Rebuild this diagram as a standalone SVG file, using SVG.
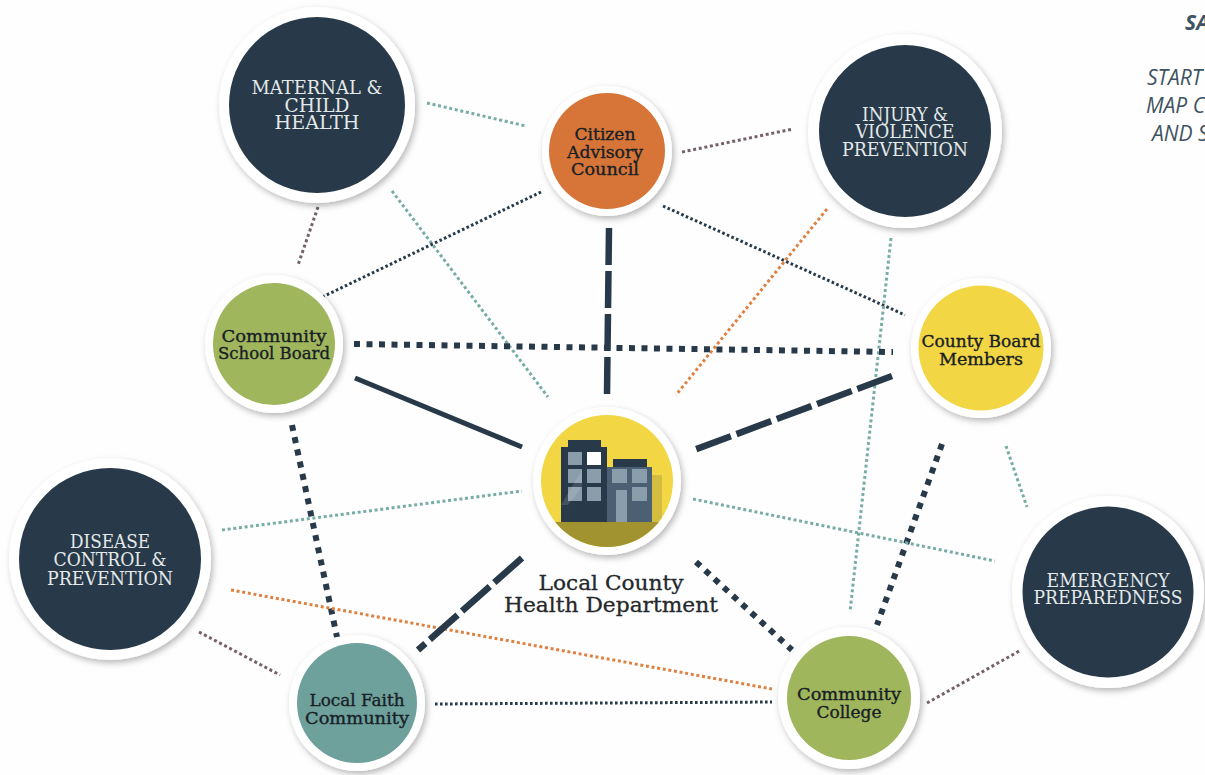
<svg xmlns="http://www.w3.org/2000/svg" width="1205" height="775" viewBox="0 0 1205 775">
<style>
.ring{fill:#fff;filter:url(#sh)}
.navy{fill:#283a49}.orange{fill:#d67537}.green{fill:#a0b65c}.yellow{fill:#f2d643}.teal{fill:#6ea09c}
text{font-family:"DejaVu Serif","Liberation Serif",serif;text-anchor:middle}
.lt{fill:#e4e9ea;font-size:18.5px}
.dk{fill:#172026;font-size:17px;stroke:#172026;stroke-width:.35}
.side{font-family:"Open Sans","Liberation Sans",sans-serif;font-style:italic;font-size:21px;fill:#3f5362;text-anchor:start}
#connectors line{fill:none}
.t{stroke:#78aca6;stroke-width:3;stroke-dasharray:3 2.7}
.o{stroke:#dd8243;stroke-width:3;stroke-dasharray:3 2.7}
.m{stroke:#75606c;stroke-width:3;stroke-dasharray:3 2.7}
.d{stroke:#283a49;stroke-width:3;stroke-dasharray:2.6 2.4}
.dd{stroke:#283a49;stroke-width:6;stroke-dasharray:6 6.5}
.da{stroke:#283a49;stroke-width:6.5;stroke-dasharray:37 6}
.s{stroke:#283a49;stroke-width:5}
</style>
<defs>
<filter id="sh" x="-20%" y="-20%" width="140%" height="140%"><feDropShadow dx="2" dy="3" stdDeviation="3" flood-color="#000" flood-opacity=".28"/></filter>
<clipPath id="hc"><circle cx="607" cy="481" r="66"/></clipPath>
</defs>
<rect width="1205" height="775" fill="#fefefe"/>
<g id="connectors">
<line class="t" x1="427" y1="103" x2="526" y2="126"/>
<line class="t" x1="392" y1="191" x2="548" y2="397"/>
<line class="m" x1="318" y1="207" x2="298" y2="265"/>
<line class="d" x1="541" y1="192" x2="316" y2="300"/>
<line class="m" x1="682" y1="152" x2="793" y2="129"/>
<line class="d" x1="663" y1="206" x2="905" y2="315"/>
<line class="da" x1="609" y1="228" x2="607" y2="395"/>
<line class="o" x1="827" y1="209" x2="676" y2="395"/>
<line class="t" x1="891" y1="238" x2="850" y2="612"/>
<line class="dd" x1="354" y1="344" x2="893" y2="352"/>
<line class="s" x1="355" y1="378" x2="522" y2="447"/>
<line class="da" x1="892" y1="376" x2="694" y2="450"/>
<line class="dd" x1="942" y1="444" x2="877" y2="625"/>
<line class="t" x1="1006" y1="446" x2="1027" y2="507"/>
<line class="dd" x1="292" y1="425" x2="337" y2="637"/>
<line class="t" x1="222" y1="530" x2="522" y2="491"/>
<line class="t" x1="693" y1="499" x2="995" y2="561"/>
<line class="o" x1="231" y1="590" x2="772" y2="689"/>
<line class="m" x1="199" y1="632" x2="280" y2="675"/>
<line class="da" x1="522" y1="558" x2="418" y2="650"/>
<line class="dd" x1="696" y1="562" x2="792" y2="650"/>
<line class="d" x1="435" y1="704" x2="772" y2="702"/>
<line class="m" x1="927" y1="703" x2="1021" y2="650"/>
</g>
<g id="maternal">
<circle class="ring" cx="317" cy="105" r="98"/><circle class="navy" cx="317" cy="105" r="88"/>
<text class="lt" x="317" y="94" textLength="131" lengthAdjust="spacingAndGlyphs">MATERNAL &amp;</text>
<text class="lt" x="317" y="112" textLength="65" lengthAdjust="spacingAndGlyphs">CHILD</text>
<text class="lt" x="317" y="129" textLength="85" lengthAdjust="spacingAndGlyphs">HEALTH</text>
</g>
<g id="citizen">
<circle class="ring" cx="607" cy="151" r="65"/><circle class="orange" cx="607" cy="151" r="58"/>
<text class="dk" x="605" y="140" textLength="61" lengthAdjust="spacingAndGlyphs">Citizen</text>
<text class="dk" x="605" y="158" textLength="76" lengthAdjust="spacingAndGlyphs">Advisory</text>
<text class="dk" x="605" y="175" textLength="68" lengthAdjust="spacingAndGlyphs">Council</text>
</g>
<g id="injury">
<circle class="ring" cx="905" cy="131" r="97"/><circle class="navy" cx="905" cy="131" r="86"/>
<text class="lt" x="905" y="121" textLength="86" lengthAdjust="spacingAndGlyphs">INJURY &amp;</text>
<text class="lt" x="905" y="138" textLength="99" lengthAdjust="spacingAndGlyphs">VIOLENCE</text>
<text class="lt" x="905" y="156" textLength="126" lengthAdjust="spacingAndGlyphs">PREVENTION</text>
</g>
<g id="school">
<circle class="ring" cx="274" cy="344" r="69"/><circle class="green" cx="274" cy="344" r="61"/>
<text class="dk" x="274" y="342" textLength="105" lengthAdjust="spacingAndGlyphs">Community</text>
<text class="dk" x="274" y="359" textLength="112" lengthAdjust="spacingAndGlyphs">School Board</text>
</g>
<g id="county">
<circle class="ring" cx="981" cy="348" r="70"/><circle class="yellow" cx="981" cy="348" r="62.5"/>
<text class="dk" x="981" y="347" textLength="119" lengthAdjust="spacingAndGlyphs">County Board</text>
<text class="dk" x="981" y="365" textLength="84" lengthAdjust="spacingAndGlyphs">Members</text>
</g>
<g id="health">
<circle class="ring" cx="607" cy="481" r="74"/><circle class="yellow" cx="607" cy="481" r="66"/>
<g clip-path="url(#hc)">
<rect x="652" y="475" width="10" height="47" fill="#d3bc3f"/>
<rect x="530" y="522" width="160" height="30" fill="#a09330"/>
</g>
<rect x="568" y="440" width="33" height="8" fill="#283a49"/>
<rect x="561" y="447" width="46" height="75" fill="#283a49"/>
<rect x="613" y="459" width="34" height="8" fill="#283a49"/>
<rect x="607" y="467" width="45" height="55" fill="#4b6072"/>
<g fill="#8a9dab">
<rect x="568" y="452" width="14" height="13"/><rect x="568" y="469" width="14" height="14"/><rect x="587" y="469" width="14" height="14"/>
<rect x="568" y="487" width="14" height="14"/><rect x="587" y="487" width="14" height="14"/>
<rect x="612" y="469" width="15" height="14"/><rect x="632" y="469" width="15" height="14"/><rect x="632" y="487" width="15" height="14"/>
<rect x="616" y="490" width="11" height="32"/>
</g>
<rect x="587" y="452" width="14" height="13" fill="#fff"/>
<polygon points="561,505 582,470 582,487 568,505" fill="#fff" opacity=".12"/>
<text x="611" y="590" fill="#24282c" stroke="#24282c" stroke-width=".3" font-size="21" textLength="145" lengthAdjust="spacingAndGlyphs">Local County</text>
<text x="611" y="612" fill="#24282c" stroke="#24282c" stroke-width=".3" font-size="21" textLength="214" lengthAdjust="spacingAndGlyphs">Health Department</text>
</g>
<g id="disease">
<circle class="ring" cx="110" cy="559" r="101"/><circle class="navy" cx="110" cy="559" r="91"/>
<text class="lt" x="110" y="548" textLength="80" lengthAdjust="spacingAndGlyphs">DISEASE</text>
<text class="lt" x="110" y="566" textLength="113" lengthAdjust="spacingAndGlyphs">CONTROL &amp;</text>
<text class="lt" x="110" y="585" textLength="126" lengthAdjust="spacingAndGlyphs">PREVENTION</text>
</g>
<g id="emergency">
<circle class="ring" cx="1108" cy="592" r="96"/><circle class="navy" cx="1108" cy="592" r="85.5"/>
<text class="lt" x="1108" y="587" textLength="123" lengthAdjust="spacingAndGlyphs">EMERGENCY</text>
<text class="lt" x="1108" y="604" textLength="149" lengthAdjust="spacingAndGlyphs">PREPAREDNESS</text>
</g>
<g id="faith">
<circle class="ring" cx="357" cy="703" r="68"/><circle class="teal" cx="357" cy="703" r="60"/>
<text class="dk" x="357" y="706" textLength="95" lengthAdjust="spacingAndGlyphs">Local Faith</text>
<text class="dk" x="357" y="724" textLength="104" lengthAdjust="spacingAndGlyphs">Community</text>
</g>
<g id="college">
<circle class="ring" cx="849" cy="698" r="71"/><circle class="green" cx="849" cy="698" r="62"/>
<text class="dk" x="849" y="700" textLength="104" lengthAdjust="spacingAndGlyphs">Community</text>
<text class="dk" x="849" y="718" textLength="65" lengthAdjust="spacingAndGlyphs">College</text>
</g>
<g id="side-text">
<text class="side" x="1185" y="30" font-weight="700">SA</text>
<text class="side" x="1147" y="85">START</text>
<text class="side" x="1146" y="113">MAP C</text>
<text class="side" x="1152" y="141">AND S</text>
</g>
</svg>
